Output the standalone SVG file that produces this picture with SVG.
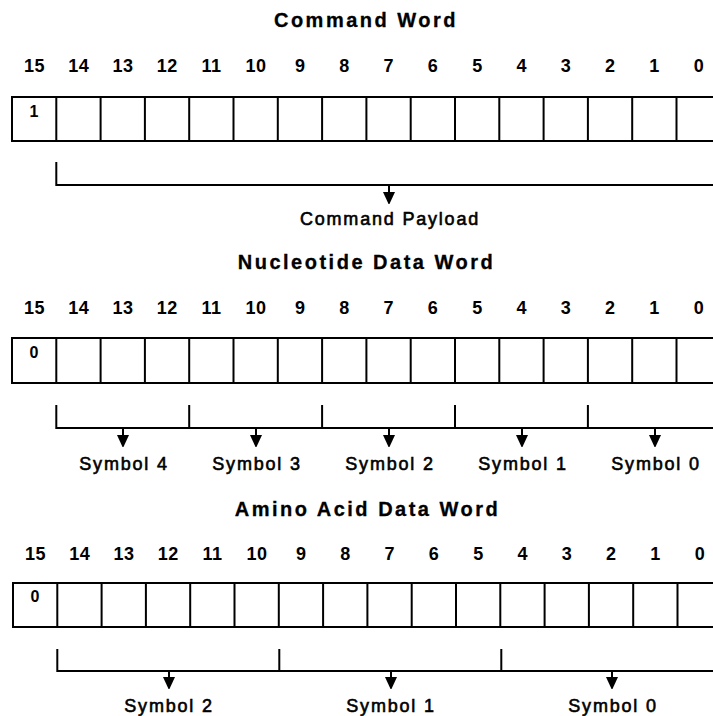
<svg xmlns="http://www.w3.org/2000/svg" width="713" height="716" viewBox="0 0 713 716">
<style>
.title{font-family:"Liberation Sans",Arial,sans-serif;font-weight:bold;font-size:20px;letter-spacing:2.5px;text-anchor:middle;fill:#000;stroke:#000;stroke-width:0.3}
.bit{font-family:"Liberation Sans",Arial,sans-serif;font-weight:bold;font-size:18px;letter-spacing:0.5px;text-anchor:middle;fill:#000}
.cell{font-family:"Liberation Sans",Arial,sans-serif;font-weight:bold;font-size:16px;text-anchor:middle;fill:#000}
.lbl{font-family:"Liberation Sans",Arial,sans-serif;font-size:18px;letter-spacing:1.8px;text-anchor:middle;fill:#000;stroke:#000;stroke-width:0.6}
.reg{fill:none;stroke:#000;stroke-width:2}
.br{fill:none;stroke:#000;stroke-width:2}
.ar{stroke:#000;stroke-width:2;marker-end:url(#ah)}
</style>
<defs>
<marker id="ah" viewBox="0 0 12 13" refX="6" refY="6.5" markerWidth="12" markerHeight="13" orient="auto" markerUnits="userSpaceOnUse">
<path d="M0,0.5 L13,6.5 L0,12.5 z" fill="#000"/>
</marker>
</defs>
<rect width="713" height="716" fill="#fff"/>

<g id="command-word">
<text class="title" x="366" y="27">Command Word</text>
<g class="bit">
<text x="34.4" y="72">15</text><text x="78.7" y="72">14</text><text x="123" y="72">13</text><text x="167.3" y="72">12</text>
<text x="211.6" y="72">11</text><text x="255.9" y="72">10</text><text x="300.2" y="72">9</text><text x="344.5" y="72">8</text>
<text x="388.8" y="72">7</text><text x="433.1" y="72">6</text><text x="477.4" y="72">5</text><text x="521.7" y="72">4</text>
<text x="566" y="72">3</text><text x="610.3" y="72">2</text><text x="654.6" y="72">1</text><text x="698.9" y="72">0</text>
</g>
<path class="reg" d="M12,97 H722 M12,141 H722 M12,96 V142 M56.3,97 V141 M100.6,97 V141 M144.9,97 V141 M189.2,97 V141 M233.5,97 V141 M277.8,97 V141 M322.1,97 V141 M366.4,97 V141 M410.7,97 V141 M455,97 V141 M499.3,97 V141 M543.6,97 V141 M587.9,97 V141 M632.2,97 V141 M676.5,97 V141"/>
<text class="cell" x="34" y="117">1</text>
</g>

<g id="command-payload">
<text class="lbl" x="390" y="225">Command Payload</text>
</g>

<g id="nucleotide-word">
<text class="title" x="366.5" y="269">Nucleotide Data Word</text>
<g class="bit">
<text x="34.4" y="314">15</text><text x="78.7" y="314">14</text><text x="123" y="314">13</text><text x="167.3" y="314">12</text>
<text x="211.6" y="314">11</text><text x="255.9" y="314">10</text><text x="300.2" y="314">9</text><text x="344.5" y="314">8</text>
<text x="388.8" y="314">7</text><text x="433.1" y="314">6</text><text x="477.4" y="314">5</text><text x="521.7" y="314">4</text>
<text x="566" y="314">3</text><text x="610.3" y="314">2</text><text x="654.6" y="314">1</text><text x="698.9" y="314">0</text>
</g>
<path class="reg" d="M12,338 H722 M12,383 H722 M12,337 V384 M56.3,338 V383 M100.6,338 V383 M144.9,338 V383 M189.2,338 V383 M233.5,338 V383 M277.8,338 V383 M322.1,338 V383 M366.4,338 V383 M410.7,338 V383 M455,338 V383 M499.3,338 V383 M543.6,338 V383 M587.9,338 V383 M632.2,338 V383 M676.5,338 V383"/>
<text class="cell" x="34" y="358">0</text>
</g>

<g id="nuc-symbol-4"><text class="lbl" x="124" y="470">Symbol 4</text></g>
<g id="nuc-symbol-3"><text class="lbl" x="257" y="470">Symbol 3</text></g>
<g id="nuc-symbol-2"><text class="lbl" x="390" y="470">Symbol 2</text></g>
<g id="nuc-symbol-1"><text class="lbl" x="523" y="470">Symbol 1</text></g>
<g id="nuc-symbol-0"><text class="lbl" x="656" y="470">Symbol 0</text></g>

<g id="amino-word">
<text class="title" x="367.5" y="516">Amino Acid Data Word</text>
<g class="bit">
<text x="35.4" y="560">15</text><text x="79.7" y="560">14</text><text x="124" y="560">13</text><text x="168.3" y="560">12</text>
<text x="212.6" y="560">11</text><text x="256.9" y="560">10</text><text x="301.2" y="560">9</text><text x="345.5" y="560">8</text>
<text x="389.8" y="560">7</text><text x="434.1" y="560">6</text><text x="478.4" y="560">5</text><text x="522.7" y="560">4</text>
<text x="567" y="560">3</text><text x="611.3" y="560">2</text><text x="655.6" y="560">1</text><text x="699.9" y="560">0</text>
</g>
<path class="reg" d="M13,583 H722 M13,627 H722 M13,582 V628 M57.3,583 V627 M101.6,583 V627 M145.9,583 V627 M190.2,583 V627 M234.5,583 V627 M278.8,583 V627 M323.1,583 V627 M367.4,583 V627 M411.7,583 V627 M456,583 V627 M500.3,583 V627 M544.6,583 V627 M588.9,583 V627 M633.2,583 V627 M677.5,583 V627"/>
<text class="cell" x="35" y="602">0</text>
</g>

<g id="amino-symbol-2"><text class="lbl" x="169" y="712">Symbol 2</text></g>
<g id="amino-symbol-1"><text class="lbl" x="391" y="712">Symbol 1</text></g>
<g id="amino-symbol-0"><text class="lbl" x="613" y="712">Symbol 0</text></g>

<g id="connectors">
<path class="br" d="M56.3,162 V185 H714"/>
<line class="ar" x1="389" y1="185" x2="389" y2="198"/>

<path class="br" d="M56.3,405 V428 H714 M189.2,405 V428 M322.1,405 V428 M455,405 V428 M587.9,405 V428"/>
<line class="ar" x1="123" y1="428" x2="123" y2="441"/>
<line class="ar" x1="256" y1="428" x2="256" y2="441"/>
<line class="ar" x1="389" y1="428" x2="389" y2="441"/>
<line class="ar" x1="522" y1="428" x2="522" y2="441"/>
<line class="ar" x1="655" y1="428" x2="655" y2="441"/>

<path class="br" d="M57.3,649 V671 H714 M279.3,649 V671 M501.3,649 V671"/>
<line class="ar" x1="169" y1="671" x2="169" y2="683"/>
<line class="ar" x1="391" y1="671" x2="391" y2="683"/>
<line class="ar" x1="612" y1="671" x2="612" y2="683"/>
</g>
</svg>
